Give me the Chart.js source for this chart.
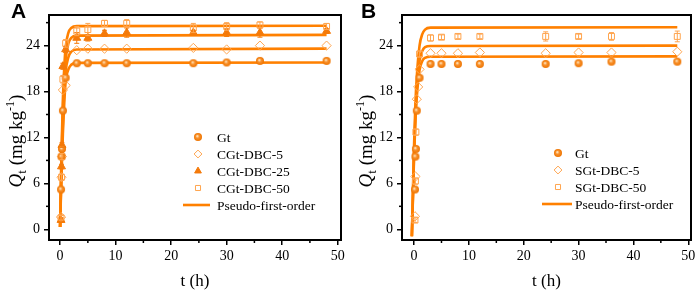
<!DOCTYPE html>
<html><head><meta charset="utf-8">
<script src="https://cdn.jsdelivr.net/npm/chart.js@4.4.1/dist/chart.umd.min.js"></script>
<style>
html,body{margin:0;padding:0;background:#fff;width:699px;height:290px;overflow:hidden;}
.pane{position:absolute;top:0;height:290px;}
</style></head>
<body>
<div class="pane" style="left:0;width:350px"><canvas id="cA" width="350" height="290"></canvas></div>
<div class="pane" style="left:350px;width:349px"><canvas id="cB" width="349" height="290"></canvas></div>
<script>
// ---------- DATA ----------
const times = [0.167, 0.25, 0.333, 0.5, 0.75, 1, 3, 5, 8, 12, 24, 30, 36, 48];
const xTicks = [0, 10, 20, 30, 40, 50];
const yTicks = [0, 6, 12, 18, 24];

// Panel A
const gtA   = [5.2, 9.5, 10.5, 15.5, null, 19.8, 21.7, 21.7, 21.7, 21.7, 21.7, 21.8, 22.0, 22.0];
const c5A   = [1.6, 6.8, 9.5, 18.2, null, 18.8, 23.4, 23.6, 23.6, 23.6, 23.7, 23.5, 24.0, 24.0];
const c25A  = [1.2, 8.2, 11.0, 21.3, null, 23.5, 25.0, 25.0, 25.6, 25.7, 25.7, 25.7, 25.7, 25.9];
const c50A  = [1.5, 6.8, 9.5, 19.6, null, 24.3, 25.9, 26.1, 26.9, 26.9, 26.3, 26.5, 26.7, 26.5];
const errA50 = [0.3, 0.4, 0.4, 0.5, 0, 0.5, 0.6, 0.8, 0.4, 0.5, 0.6, 0.5, 0.4, 0.4];
const errA25 = [0.3, 0.3, 0.3, 0.4, 0, 0.4, 0.7, 0.4, 0.4, 0.6, 0.3, 0.5, 0.6, 0.3];
// fitted curves A
const fitTA   = [0, 0.25, 0.5, 0.75, 1, 1.5, 2, 3, 48];
const fitGtA  = [0.3, 7.0, 12.5, 16.5, 19.3, 20.9, 21.5, 21.75, 21.8];
const fitC5A  = [0.3, 8.0, 14.0, 18.0, 20.6, 22.5, 23.2, 23.5, 23.6];
const fitC25A = [0.3, 9.0, 15.5, 19.6, 22.2, 24.3, 25.0, 25.3, 25.4];
const fitC50A = [0.3, 10.0, 17.0, 21.2, 23.8, 25.7, 26.3, 26.55, 26.6];

// Panel B
const gtB   = [5.2, 9.5, 10.5, 15.5, null, 19.8, 21.6, 21.6, 21.6, 21.6, 21.6, 21.7, 21.9, 21.9];
const s5B   = [1.7, 6.9, null, 17.0, 18.6, 20.9, 23.0, 23.0, 23.0, 23.1, 23.0, 23.1, 23.1, 23.2];
const s50B  = [1.2, 6.3, 12.7, null, null, 22.9, 25.0, 25.1, 25.2, 25.2, 25.2, 25.2, 25.2, 25.2];
const errB50 = [0.3, 0.4, 0.4, 0, 0, 0.4, 0.4, 0.3, 0.3, 0.3, 0.6, 0.3, 0.5, 0.7];
const fitTB   = [-0.4, -0.2, 0, 0.25, 0.5, 1, 1.5, 2, 3, 48];
const fitTopB = [-0.9, 5.0, 11.0, 16.5, 20.0, 24.0, 25.5, 26.1, 26.35, 26.4];
const fitMidB = [-0.9, 4.5, 10.0, 15.0, 18.3, 22.0, 23.3, 23.8, 23.95, 24.0];
const fitLowB = [-0.9, 4.3, 9.5, 14.2, 17.3, 20.8, 22.0, 22.4, 22.55, 22.6];

// ---------- STYLE ----------
const LINE = '#FF8000';
const DARK = '#F47A0A';
const LIGHT = '#FFA54F';
const SERIF = '"Liberation Serif","Times New Roman",serif';

function sphere(r){
  const c = document.createElement('canvas');
  c.width = c.height = r*2+2;
  const g = c.getContext('2d');
  const grd = g.createRadialGradient(r+1-r*0.2, r+1-r*0.25, 0.3, r+1, r+1, r);
  grd.addColorStop(0, '#FFE6C0');
  grd.addColorStop(0.4, '#F8922E');
  grd.addColorStop(1, '#EE7400');
  g.fillStyle = grd;
  g.beginPath(); g.arc(r+1, r+1, r, 0, Math.PI*2); g.fill();
  return c;
}
const gtImg = sphere(4);

function pts(xs, ys){ const o=[]; xs.forEach((x,i)=>{ if(ys[i]!==null && ys[i]!==undefined) o.push({x:x,y:ys[i]}); }); return o; }

function scatterDs(label, ys, style, err){
  const ds = {type:'scatter', label, data:pts(times, ys), showLine:false, order:1};
  if(style==='gt') Object.assign(ds,{pointStyle:gtImg, pointRadius:4, backgroundColor:DARK, borderColor:DARK, borderWidth:0});
  if(style==='diamond') Object.assign(ds,{pointStyle:'rectRot', pointRadius:4.6, backgroundColor:'rgba(255,255,255,0)', borderColor:LIGHT, borderWidth:1});
  if(style==='tri') Object.assign(ds,{pointStyle:'triangle', pointRadius:4.6, backgroundColor:DARK, borderColor:DARK, borderWidth:1});
  if(style==='square') Object.assign(ds,{pointStyle:'rect', pointRadius:4.2, backgroundColor:'rgba(255,255,255,0)', borderColor:LIGHT, borderWidth:1});
  ds.errList = [];
  if(err){ ys.forEach((v,i)=>{ if(v!==null) ds.errList.push(err[i]); }); }
  return ds;
}
function fitDs(label, xs, ys){
  return {type:'line', label, data:xs.map((x,i)=>({x:x,y:ys[i]})), borderColor:LINE, borderWidth:2.6,
    pointRadius:0, cubicInterpolationMode:'monotone', fill:false, order:2};
}

// error bars
const errPlugin = {id:'errbars', afterDatasetsDraw(chart){
  const ctx = chart.ctx, y = chart.scales.y;
  chart.data.datasets.forEach((ds,di)=>{
    if(!ds.errList || !ds.errList.length) return;
    const meta = chart.getDatasetMeta(di);
    ctx.save(); ctx.strokeStyle = ds.borderColor; ctx.lineWidth=1;
    meta.data.forEach((p,j)=>{
      const e = ds.errList[j]; if(!e) return;
      const yv = ds.data[j].y;
      const y1 = y.getPixelForValue(yv+e), y2 = y.getPixelForValue(yv-e);
      ctx.beginPath();
      ctx.moveTo(p.x, y1); ctx.lineTo(p.x, y2);
      ctx.moveTo(p.x-2.5, y1); ctx.lineTo(p.x+2.5, y1);
      ctx.moveTo(p.x-2.5, y2); ctx.lineTo(p.x+2.5, y2);
      ctx.stroke();
    });
    ctx.restore();
  });
}};

// frame, minor ticks, titles, legend
function decoPlugin(letter, legendItems, legPos){
  return {id:'deco', afterDraw(chart){
    const ctx = chart.ctx, a = chart.chartArea, xs = chart.scales.x, ys = chart.scales.y;
    ctx.save();
    ctx.strokeStyle='#000'; ctx.lineWidth=2;
    ctx.strokeRect(a.left, a.top, a.right-a.left, a.bottom-a.top);
    ctx.lineWidth=1.5;
    [5,15,25,35,45].forEach(v=>{ const px=xs.getPixelForValue(v); ctx.beginPath(); ctx.moveTo(px,a.bottom); ctx.lineTo(px,a.bottom+3); ctx.stroke(); });
    [3,9,15,21,27].forEach(v=>{ const py=ys.getPixelForValue(v); ctx.beginPath(); ctx.moveTo(a.left,py); ctx.lineTo(a.left-3,py); ctx.stroke(); });
    // panel letter
    ctx.fillStyle='#000'; ctx.font='bold 21px "Liberation Sans",Arial,sans-serif'; ctx.textBaseline='alphabetic'; ctx.textAlign='left';
    ctx.fillText(letter, 11, 18);
    // x title
    ctx.font='17px '+SERIF; ctx.textAlign='center';
    ctx.fillText('t (h)', (a.left+a.right)/2, 286);
    // y title
    ctx.translate(22, 141); ctx.rotate(-Math.PI/2);
    const parts=[['Q','italic 19px '+SERIF,0],['t','13px '+SERIF,4],[' (mg kg','19px '+SERIF,0],['-1','12px '+SERIF,-8],[')','19px '+SERIF,0]];
    let w=0; parts.forEach(p=>{ctx.font=p[1]; w+=ctx.measureText(p[0]).width;});
    let x=-w/2; ctx.textAlign='left';
    parts.forEach(p=>{ctx.font=p[1]; ctx.fillText(p[0], x, p[2]); x+=ctx.measureText(p[0]).width;});
    ctx.restore();
    // legend
    ctx.save();
    ctx.font='13.5px '+SERIF; ctx.textBaseline='middle'; ctx.textAlign='left';
    legendItems.forEach((it,i)=>{
      const yy = legPos.y + i*legPos.dy;
      if(it.ds.type==='line'){
        ctx.strokeStyle=LINE; ctx.lineWidth=2.6; ctx.beginPath(); ctx.moveTo(legPos.lx1, yy); ctx.lineTo(legPos.lx2, yy); ctx.stroke();
      } else {
        ctx.fillStyle=it.ds.backgroundColor; ctx.strokeStyle=it.ds.borderColor; ctx.lineWidth=it.ds.borderWidth||1;
        Chart.helpers.drawPoint(ctx, {pointStyle:it.ds.pointStyle, radius:it.ds.pointRadius*0.85, rotation:0, borderWidth:it.ds.borderWidth||0}, legPos.mx, yy);
      }
      ctx.fillStyle='#000';
      ctx.fillText(it.text, legPos.tx, yy+1);
    });
    ctx.restore();
  }};
}

function makeChart(id, datasets, xmin, xmax, padRight, yWidth, letter, legendItems, legPos){
  return new Chart(document.getElementById(id), {
    data:{datasets},
    options:{
      responsive:false, animation:false, devicePixelRatio:1,
      layout:{padding:{left:0, right:padRight, top:15, bottom:0}},
      plugins:{legend:{display:false}, tooltip:{enabled:false}},
      scales:{
        x:{type:'linear', min:xmin, max:xmax,
          afterBuildTicks:s=>{s.ticks=xTicks.map(v=>({value:v}));},
          afterFit:s=>{s.height=50;},
          grid:{drawOnChartArea:false, drawTicks:true, tickLength:5, color:'#000', lineWidth:1.5},
          border:{display:false},
          ticks:{color:'#000', font:{family:SERIF, size:14}, padding:3, maxRotation:0}},
        y:{type:'linear', min:-1.4, max:28,
          afterBuildTicks:s=>{s.ticks=yTicks.map(v=>({value:v}));},
          afterFit:s=>{s.width=yWidth;},
          grid:{drawOnChartArea:false, drawTicks:true, tickLength:5, color:'#000', lineWidth:1.5},
          border:{display:false},
          ticks:{color:'#000', font:{family:SERIF, size:14}, padding:4}}
      }
    },
    plugins:[errPlugin, decoPlugin(letter, legendItems, legPos)]
  });
}

// Panel A
const dA = [
  scatterDs('Gt', gtA, 'gt'),
  scatterDs('CGt-DBC-5', c5A, 'diamond'),
  scatterDs('CGt-DBC-25', c25A, 'tri', errA25),
  scatterDs('CGt-DBC-50', c50A, 'square', errA50),
  fitDs('Pseudo-first-order', fitTA, fitGtA),
  fitDs('', fitTA, fitC5A),
  fitDs('', fitTA, fitC25A),
  fitDs('', fitTA, fitC50A)
];
const legA = [0,1,2,3,4].map(i=>({ds:dA[i], text:dA[i].label}));
makeChart('cA', dA, -2.0, 50.6, 9, 49, 'A', legA, {y:137, dy:17, mx:198, tx:217, lx1:183, lx2:210});

// Panel B
const dB = [
  scatterDs('Gt', gtB, 'gt'),
  scatterDs('SGt-DBC-5', s5B, 'diamond'),
  scatterDs('SGt-DBC-50', s50B, 'square', errB50),
  fitDs('Pseudo-first-order', fitTB, fitTopB),
  fitDs('', fitTB, fitMidB),
  fitDs('', fitTB, fitLowB)
];
const legB = [0,1,2,3].map(i=>({ds:dB[i], text:dB[i].label}));
makeChart('cB', dB, -2.2, 50.5, 8, 52, 'B', legB, {y:153, dy:17, mx:208, tx:225, lx1:192, lx2:222});
</script>
</body></html>
